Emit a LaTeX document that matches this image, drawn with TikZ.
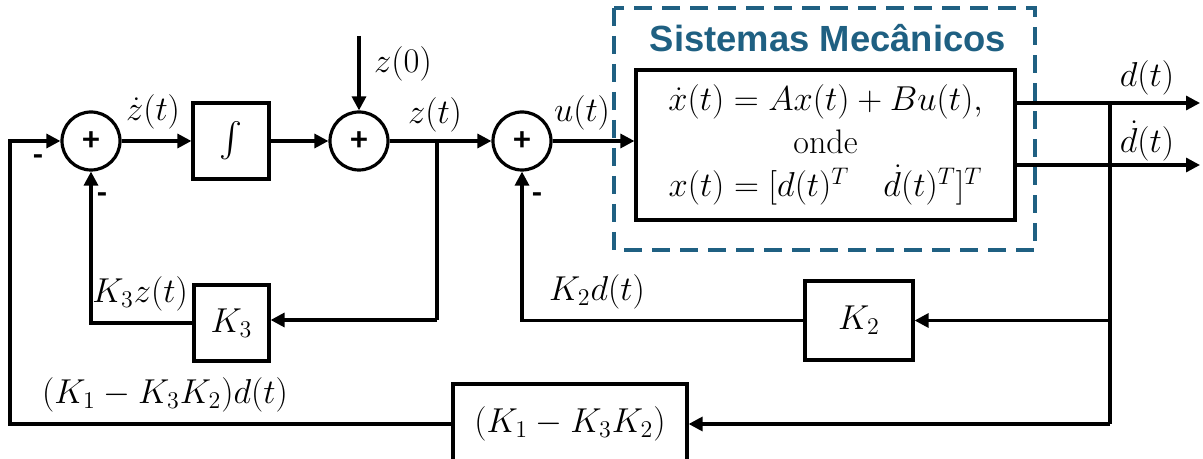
\documentclass[tikz,border=0pt]{standalone}
\usepackage{fontspec}
\usepackage{amsmath}
\usetikzlibrary{arrows.meta}
\newfontfamily\titlefont{Liberation Sans}
\newfontfamily\signfont{Carlito}
\definecolor{tealblue}{RGB}{31,96,130}
\begin{document}
\begin{tikzpicture}[x=0.5pt,y=-0.5pt, line width=1.6pt,
  >={Triangle[length=7pt,width=7pt]},
  sumnode/.style={circle,draw,minimum size=29pt,inner sep=0pt,font=\signfont\bfseries\fontsize{17}{17}\selectfont},
  blk/.style={draw,inner sep=0pt,font=\fontsize{16.5}{18}\selectfont},
  lbl/.style={inner sep=0pt,font=\fontsize{16.5}{18}\selectfont},
  sgn/.style={inner sep=0pt,font=\signfont\bfseries\fontsize{16}{16}\selectfont}]
\useasboundingbox (0,0) rectangle (1203,459);
\clip (0,0) rectangle (1203,459);

% dashed subsystem frame
\draw[tealblue,line width=1.6pt,dash pattern=on 9pt off 5pt] (614,8) rectangle (1035,250);
\node[inner sep=0pt,text=tealblue,font=\titlefont\bfseries\fontsize{18.2}{20}\selectfont] (title) at (828,38) {Sistemas Mecânicos};

% blocks
\node[sumnode] (s1) at (91,141) {+};
\node[blk,minimum width=38pt,minimum height=38pt,font=\fontsize{18}{20}\selectfont] (integ) at (231,141) {$\int$};
\node[sumnode] (s2) at (359,141) {+};
\node[sumnode] (s3) at (522,141) {+};
\node[blk,minimum width=189.5pt,minimum height=75pt,align=center,font=\fontsize{17}{20.5}\selectfont] (plant) at (825.5,145)
  {$\dot x(t)=Ax(t)+Bu(t),$\\[1pt] onde\\[1pt] $x(t)=[d(t)^T\quad \dot d(t)^T]^T$};
\node[blk,minimum width=37.5pt,minimum height=38pt] (k3) at (231.5,323) {$K_3$};
\node[blk,minimum width=54pt,minimum height=39.5pt] (k2) at (859,320.5) {$K_2$};
\node[blk,minimum width=117pt,minimum height=40pt] (k1) at (570,424) {$(K_1-K_3K_2)$};

% coordinates
\coordinate (z0) at (359,36);
\coordinate (bz) at (437,141);
\coordinate (bz2) at (437,320);
\coordinate (dout) at (1200,103);
\coordinate (ddout) at (1200,165);
\coordinate (b1) at (1110,103);
\coordinate (b2) at (1110,424);
\coordinate (cl) at (10,141);

% forward path
\draw[->] (s1) -- (integ);
\draw[->] (integ) -- (s2);
\draw[->] (z0) -- (s2.north);
\draw[->] (s2) -- (s3);
\draw[->] (s3.east) -- (s3.east -| plant.west);
\draw[->] (plant.east |- dout) -- (dout);
\draw[->] (plant.east |- ddout) -- (ddout);

% feedback paths
\draw (bz) -- (bz2);
\draw[->] (bz2) -- (bz2 -| k3.east);
\draw[->] (k3.west) -| (s1.south);
\draw (b1) -- (b2);
\draw[->] (b1 |- k2) -- (k2.east);
\draw[->] (k2.west) -| (s3.south);
\draw[->] (b2) -- (b2 -| k1.east);
\draw[->] (k1.west) -| (cl) -- (s1.west);

% labels
\node[lbl] (lzd) at (153,112) {$\dot z(t)$};
\node[lbl] (lz0) at (403,64) {$z(0)$};
\node[lbl] (lz) at (435,115) {$z(t)$};
\node[lbl] (lu) at (582,113) {$u(t)$};
\node[lbl] (ld) at (1147,78) {$d(t)$};
\node[lbl] (ldd) at (1147,141) {$\dot d(t)$};
\node[lbl] (lk3) at (140,294) {$K_3z(t)$};
\node[lbl] (lk2) at (597,292) {$K_2d(t)$};
\node[lbl] (lk1) at (165,395) {$(K_1-K_3K_2)d(t)$};
\node[sgn] (m1) at (38,160) {-};
\node[sgn] (m2) at (102,198) {-};
\node[sgn] (m3) at (537,198) {-};
\end{tikzpicture}
\end{document}
